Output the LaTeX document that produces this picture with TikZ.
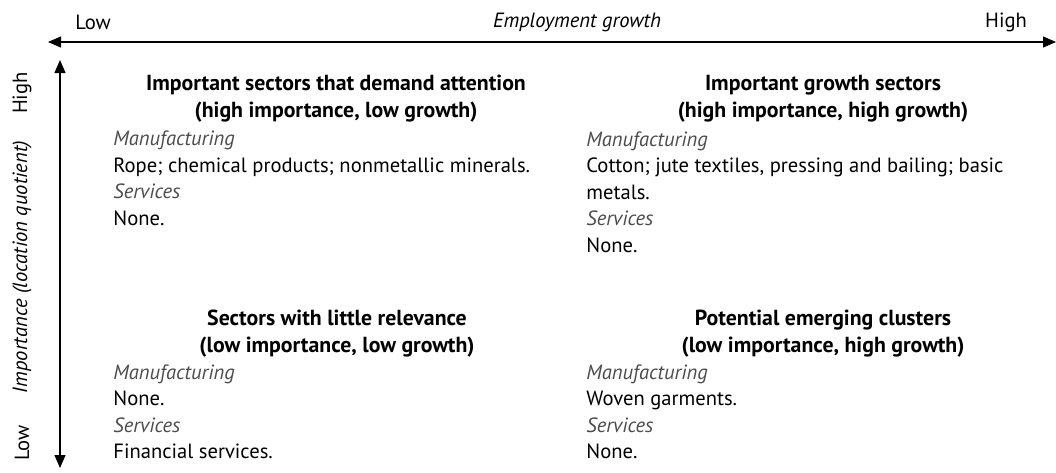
\documentclass[tikz,border=0pt]{standalone}
\usepackage{fontspec}
\setmainfont{PT Sans}
\usetikzlibrary{positioning,arrows.meta}
\newcommand{\sectorcat}[1]{{\itshape\color{black!70}#1}}

\begin{document}
\begin{tikzpicture}[x=0.5pt, y=-0.5pt, every node/.style={font=\fontsize{10.3}{13.25}\selectfont, inner sep=0pt}]
\tikzstyle{axis}=[{Triangle[length=6.5pt,width=5.5pt]}-{Triangle[length=6.5pt,width=5.5pt]}, line width=0.6pt]
\tikzstyle{ttl}=[align=center, font=\fontsize{10.9}{13.5}\selectfont\bfseries]
\tikzstyle{body}=[align=left, anchor=west]
\useasboundingbox (0,0) rectangle (1056,472);
% axes
\coordinate (xlo) at (48,42);
\coordinate (xhi) at (1056,42);
\coordinate (yhi) at (60,60);
\coordinate (ylo) at (60,468);
\draw[axis] (xlo) -- (xhi);
\draw[axis] (ylo) -- (yhi);
\node (growlo) at (93,22) {Low};
\node (growhi) at (1006,22) {High};
\node (growth) at (577,22) {\itshape Employment growth};
\node[rotate=90] (imphi) at (22,93) {High};
\node[rotate=90] (implo) at (22,443) {Low};
\node[rotate=90] (imp) at (22,267) {\itshape Importance (location quotient)};
% quadrants
\node[ttl] (attn) at (336,98.5) {Important sectors that demand attention\\(high importance, low growth)};
\node[body] (attnlist) at (113,178.5) {\sectorcat{Manufacturing}\\Rope; chemical products; nonmetallic minerals.\\\sectorcat{Services}\\None.};
\node[ttl] (grow) at (823,98.5) {Important growth sectors\\(high importance, high growth)};
\node[body] (growlist) at (586,192) {\sectorcat{Manufacturing}\\Cotton; jute textiles, pressing and bailing; basic\\metals.\\\sectorcat{Services}\\None.};
\node[ttl] (little) at (337,333.5) {Sectors with little relevance\\(low importance, low growth)};
\node[body] (littlelist) at (113,412) {\sectorcat{Manufacturing}\\None.\\\sectorcat{Services}\\Financial services.};
\node[ttl] (emerg) at (823,333.5) {Potential emerging clusters\\(low importance, high growth)};
\node[body] (emerglist) at (586,412) {\sectorcat{Manufacturing}\\Woven garments.\\\sectorcat{Services}\\None.};
\end{tikzpicture}
\end{document}
